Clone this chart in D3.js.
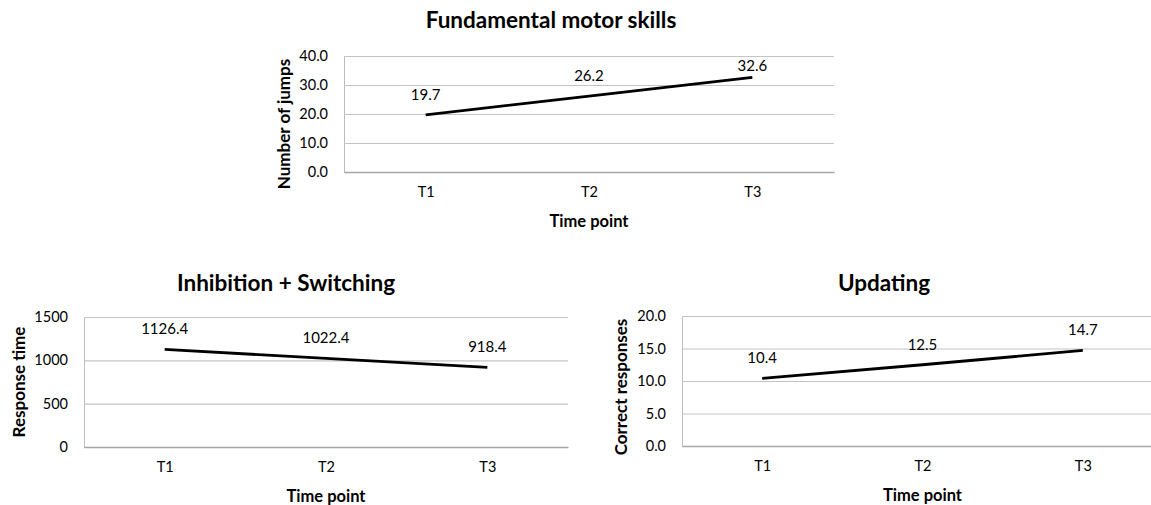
<!DOCTYPE html>
<html>
<head>
<meta charset="utf-8">
<script src="https://cdn.jsdelivr.net/npm/d3@7"></script>
<style>
  body { margin: 0; background: #fff; }
  svg text { font-family: Lato, "Open Sans", sans-serif; fill: #000; }
</style>
</head>
<body>
<div id="chart"></div>
<script>
// Data
var timePoints        = ['T1', 'T2', 'T3'];
var motorValues       = [19.7, 26.2, 32.6];
var inhibitionValues  = [1126.4, 1022.4, 918.4];
var updatingValues    = [10.4, 12.5, 14.7];
var motorTicks        = [0, 10, 20, 30, 40];
var inhibitionTicks   = [0, 500, 1000, 1500];
var updatingTicks     = [0, 5, 10, 15, 20];

var chart_width  = 1151;
var chart_height = 505;

var svg = d3.select('#chart')
    .append('svg')
    .attr('width', chart_width)
    .attr('height', chart_height);

// one panel = one small line chart
function drawPanel(p) {
    var g = svg.append('g');

    var x = d3.scalePoint()
        .domain(timePoints)
        .range([p.left, p.right])
        .padding(0.5);
    var y = d3.scaleLinear()
        .domain([0, d3.max(p.ticks)])
        .range([p.bottom, p.top]);

    // gridlines + y tick labels
    var yAxis = d3.axisLeft(y)
        .tickValues(p.ticks)
        .tickSize(-(p.right - p.left))
        .tickPadding(16)
        .tickFormat(d3.format(p.fmt));
    var gy = g.append('g')
        .attr('transform', 'translate(' + p.left + ',0)')
        .call(yAxis);
    gy.select('.domain').attr('stroke', '#bdbdbd').attr('stroke-width', 1);
    gy.selectAll('.tick line').attr('stroke', '#c4c4c4').attr('stroke-width', 1.2);
    gy.selectAll('.tick text')
        .style('font-size', '14.5px')
        .attr('fill', '#000');

    // x axis
    var gx = g.append('g')
        .attr('transform', 'translate(0,' + p.bottom + ')')
        .call(d3.axisBottom(x).tickSize(0).tickPadding(15));
    gx.select('.domain').attr('stroke', '#a6a6a6').attr('stroke-width', 1.3);
    gx.selectAll('.tick text')
        .style('font-size', '14.5px')
        .attr('fill', '#000');

    // the line
    var line = d3.line()
        .x(function(d, i) { return x(timePoints[i]); })
        .y(function(d) { return y(d); });
    g.append('path')
        .datum(p.values)
        .attr('d', line)
        .attr('fill', 'none')
        .attr('stroke', '#000')
        .attr('stroke-width', 2.8);

    // value labels
    g.selectAll('.val')
        .data(p.values)
        .enter()
        .append('text')
        .attr('class', 'val')
        .attr('x', function(d, i) { return x(timePoints[i]); })
        .attr('y', function(d) { return Math.max(y(d) - 21, p.top + 9); })
        .attr('text-anchor', 'middle')
        .attr('dominant-baseline', 'central')
        .style('font-size', '15px')
        .text(function(d) { return d3.format(p.valFmt)(d); });

    // titles
    g.append('text')
        .attr('x', p.titleX)
        .attr('y', p.titleY)
        .attr('text-anchor', 'middle')
        .style('font-size', '22.5px')
        .style('font-weight', 'bold')
        .text(p.title);

    g.append('text')
        .attr('x', (p.left + p.right) / 2)
        .attr('y', p.bottom + 49)
        .attr('text-anchor', 'middle')
        .attr('dominant-baseline', 'central')
        .style('font-size', '16.5px')
        .style('font-weight', 'bold')
        .text('Time point');

    g.append('text')
        .attr('transform', 'translate(' + p.yTitleX + ',' + p.yTitleY + ') rotate(-90)')
        .attr('text-anchor', 'middle')
        .attr('dominant-baseline', 'central')
        .style('font-size', '17px')
        .style('font-weight', 'bold')
        .text(p.yTitle);
}

drawPanel({
    values: motorValues, ticks: motorTicks, fmt: '.1f', valFmt: '.1f',
    left: 344, right: 834, top: 56, bottom: 172,
    title: 'Fundamental motor skills', titleX: 551, titleY: 28,
    yTitle: 'Number of jumps', yTitleX: 283, yTitleY: 124
});

drawPanel({
    values: inhibitionValues, ticks: inhibitionTicks, fmt: 'd', valFmt: '.1f',
    left: 84, right: 568, top: 317, bottom: 447,
    title: 'Inhibition + Switching', titleX: 286, titleY: 291,
    yTitle: 'Response time', yTitleX: 18, yTitleY: 382
});

drawPanel({
    values: updatingValues, ticks: updatingTicks, fmt: '.1f', valFmt: '.1f',
    left: 682, right: 1163, top: 316, bottom: 446,
    title: 'Updating', titleX: 884, titleY: 291,
    yTitle: 'Correct responses', yTitleX: 620, yTitleY: 387
});
</script>
</body>
</html>
